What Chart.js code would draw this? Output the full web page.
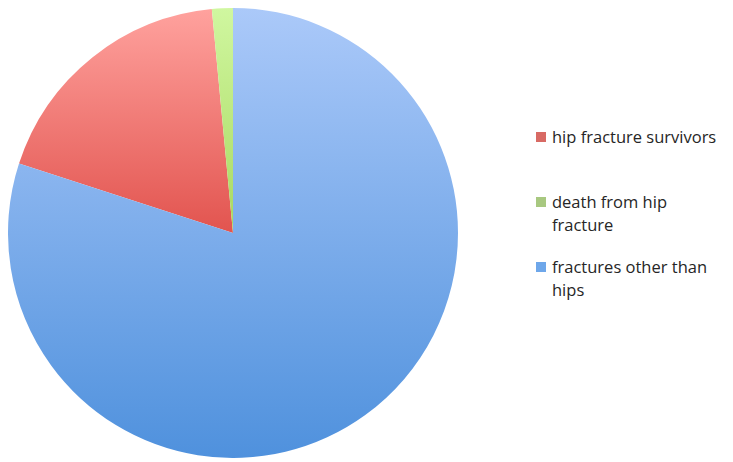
<!DOCTYPE html>
<html>
<head>
<meta charset="utf-8">
<script src="https://cdn.jsdelivr.net/npm/chart.js@4"></script>
<style>
    html, body { margin: 0; padding: 0; background: #fff; }
    #wrap { position: relative; width: 733px; height: 462px; overflow: hidden; }
    #pie { position: absolute; left: 8px; top: 8px; width: 450px; height: 450px; }
    #legend { position: absolute; left: 536px; top: 125px; width: 188px;
              font-family: "Open Sans", sans-serif; font-size: 16.5px; color: #262626; }
    .item { position: relative; height: 65px; padding-left: 16px; line-height: 23px; }
    .box { position: absolute; left: 0; top: 7px; width: 10px; height: 10px; }
</style>
</head>
<body>
<div id="wrap">
    <div id="pie"><canvas id="c"></canvas></div>
    <div id="legend"></div>
</div>
<script>
var labels = ['hip fracture survivors', 'death from hip fracture', 'fractures other than hips'];
var values = [18.5, 1.5, 80];

// legend swatches and slice gradients (top -> bottom of the pie)
var swatchColors = ['#d86a64', '#a8c880', '#6ea7ea'];
var gradientStops = [
    [[0, '#ffa29e'], [0.5, '#e2544f'], [1, '#d04540']],
    [[0, '#d0f7a0'], [0.5, '#a8d860'], [1, '#98c850']],
    [[0, '#abc9f9'], [1, '#4f91dd']]
];

var total = values.reduce(function (a, b) { return a + b; }, 0);
// first two slices sit just left of 12 o'clock
var rotation = -(values[0] + values[1]) / total * 360;

function sliceColor(ctx) {
    var chart = ctx.chart;
    var area = chart.chartArea;
    if (!area) {
        return swatchColors[ctx.dataIndex];
    }
    var g = chart.ctx.createLinearGradient(0, area.top, 0, area.bottom);
    gradientStops[ctx.dataIndex].forEach(function (s) {
        g.addColorStop(s[0], s[1]);
    });
    return g;
}

new Chart(document.getElementById('c'), {
    type: 'pie',
    data: {
        labels: labels,
        datasets: [{
            data: values,
            backgroundColor: sliceColor,
            borderWidth: 0
        }]
    },
    options: {
        responsive: true,
        maintainAspectRatio: false,
        animation: false,
        rotation: rotation,
        layout: { padding: 0 },
        plugins: {
            legend: { display: false },
            tooltip: { enabled: false }
        }
    }
});

var legend = document.getElementById('legend');
labels.forEach(function (label, i) {
    var item = document.createElement('div');
    item.className = 'item';
    var box = document.createElement('span');
    box.className = 'box';
    box.style.background = swatchColors[i];
    item.appendChild(box);
    item.appendChild(document.createTextNode(label));
    legend.appendChild(item);
});
</script>
</body>
</html>
